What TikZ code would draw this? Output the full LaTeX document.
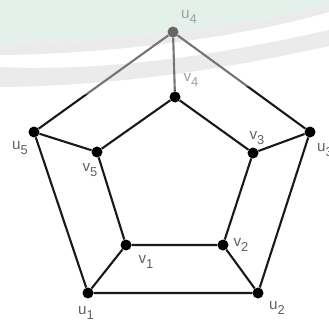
\documentclass[tikz,border=0pt]{standalone}
\usepackage{fontspec}
\setmainfont{Liberation Sans}
\definecolor{tintgreen}{RGB}{210,232,222}
\definecolor{tintgray}{RGB}{222,222,222}
\newcommand{\vlab}[2]{#1\raisebox{-5pt}{\fontsize{11}{11}\selectfont #2}}
\tikzset{
  vert/.style={circle, fill=black, inner sep=0pt, minimum size=0.33cm},
  lab/.style={text=black!62, font=\fontsize{13}{13}\selectfont, inner sep=0pt},
  edge/.style={line width=1.8pt, black!90}
}
\begin{document}
\begin{tikzpicture}[x=0.03cm, y=-0.03cm]
			\useasboundingbox (0,0) rectangle (329,323);
			\clip (0,0) rectangle (329,323);
			% faint swooshes in the background
			\fill[tintgreen] (0,0) -- (0,43) .. controls (120,42) and (250,25) .. (329,5) -- (329,0) -- cycle;
			\fill[tintgray] (0,43) .. controls (120,42) and (250,25) .. (329,5) -- (329,12) .. controls (250,35) and (120,54) .. (0,55) -- cycle;
			\fill[tintgray] (0,67) .. controls (120,72) and (230,52) .. (329,30) -- (329,46) .. controls (230,68) and (120,86) .. (0,87) -- cycle;
			% outer vertices
			\node[vert] (u1) at (88,293) {};
			\node[vert] (u2) at (258,293) {};
			\node[vert] (u3) at (310,132) {};
			\node[vert] (u4) at (173,32) {};
			\node[vert] (u5) at (34,132) {};
			% inner vertices
			\node[vert] (v1) at (126,245) {};
			\node[vert] (v2) at (223,245) {};
			\node[vert] (v3) at (253,153) {};
			\node[vert] (v4) at (175,97) {};
			\node[vert] (v5) at (97,152) {};
			% edges
			\draw[edge] (u1) -- (u2) -- (u3) -- (u4) -- (u5) -- (u1);
			\draw[edge] (v1) -- (v2) -- (v3) -- (v4) -- (v5) -- (v1);
			\draw[edge] (u1) -- (v1);
			\draw[edge] (u2) -- (v2);
			\draw[edge] (u3) -- (v3);
			\draw[edge] (u4) -- (v4);
			\draw[edge] (u5) -- (v5);
			% labels
			\node[lab] (lu1) at (86,313) {\vlab{u}{1}};
			\node[lab] (lu2) at (277,308) {\vlab{u}{2}};
			\node[lab, anchor=west] (lu3) at (317,150) {\vlab{u}{3}};
			\node[lab] (lu4) at (189,17) {\vlab{u}{4}};
			\node[lab] (lu5) at (20,148) {\vlab{u}{5}};
			\node[lab] (lv1) at (146,262) {\vlab{v}{1}};
			\node[lab] (lv2) at (241,245) {\vlab{v}{2}};
			\node[lab] (lv3) at (257,138) {\vlab{v}{3}};
			\node[lab] (lv4) at (191,80) {\vlab{v}{4}};
			\node[lab] (lv5) at (90,170) {\vlab{v}{5}};
			% washed-out top
			\fill[white, fill opacity=0.4] (0,0) -- (0,98) .. controls (100,94) and (250,88) .. (329,80) -- (329,0) -- cycle;
		\end{tikzpicture}
\end{document}
